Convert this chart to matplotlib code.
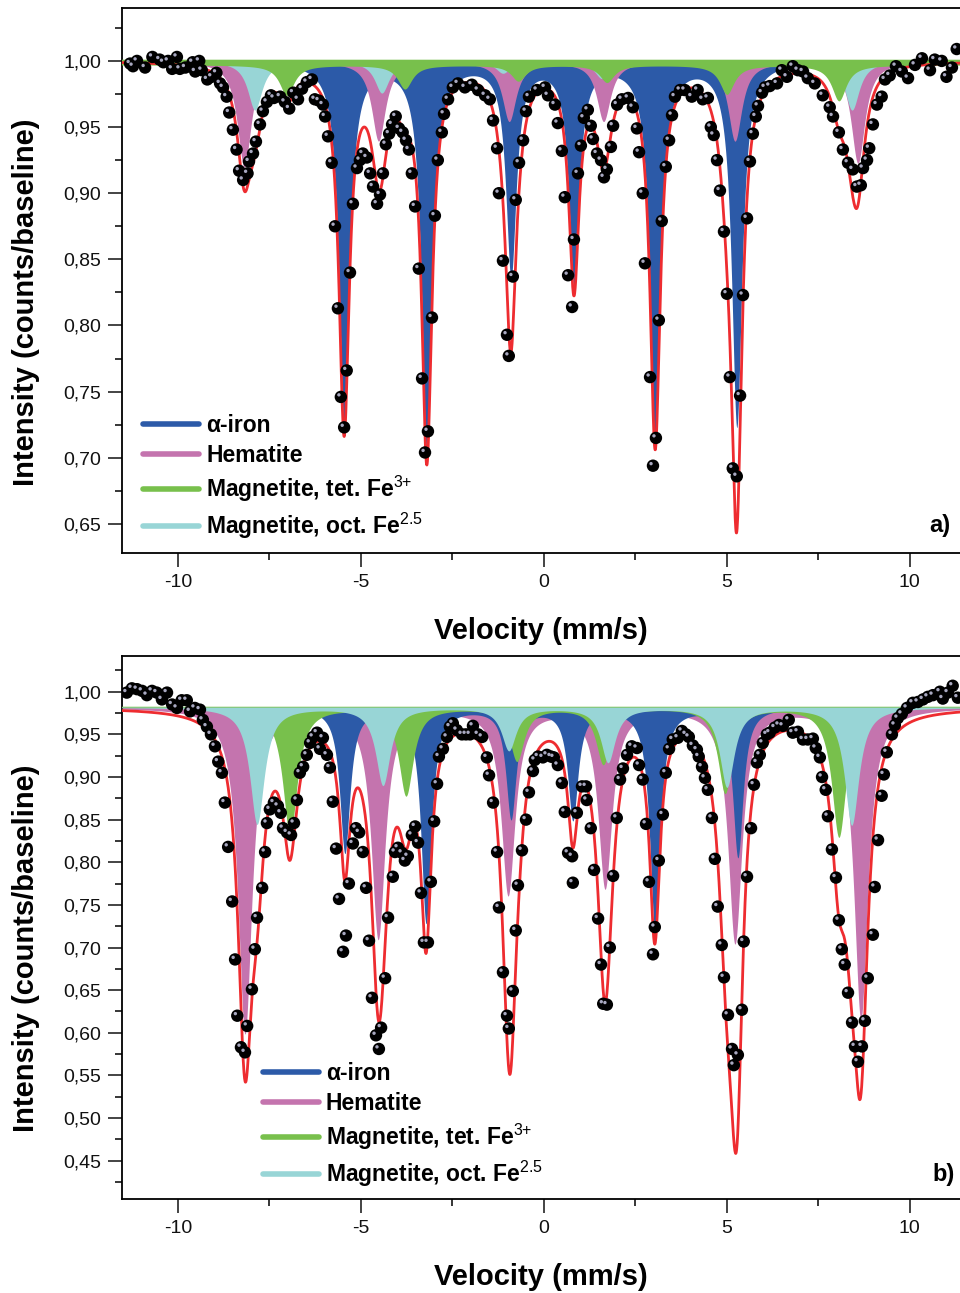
import numpy as np
import matplotlib
matplotlib.use('Agg')
import matplotlib.pyplot as plt
from matplotlib.lines import Line2D
from matplotlib.ticker import MultipleLocator, FuncFormatter
import matplotlib.transforms as mtransforms

plt.rcParams['font.family'] = ['Liberation Sans', 'DejaVu Sans']
plt.rcParams['mathtext.fontset'] = 'custom'
plt.rcParams['mathtext.rm'] = 'Liberation Sans'
plt.rcParams['mathtext.bf'] = 'Liberation Sans:bold'
plt.rcParams['axes.unicode_minus'] = False

# ------------------------------------------------ data ------------------------------------------------
# panel a) measured points (velocity mm/s, normalised intensity)
vel_a = [-11.31, -11.23, -11.12, -10.9, -10.7, -10.5, -10.4, -10.27, -10.16, -10.03, -9.95, -9.8, -9.6, -9.53, -9.42, -9.35,
         -9.2, -9.08, -8.95, -8.85, -8.77, -8.67, -8.6, -8.5, -8.4, -8.33, -8.22, -8.1, -8.06, -7.95, -7.87, -7.76, -7.68,
         -7.57, -7.46, -7.38, -7.21, -7.08, -6.96, -6.85, -6.72, -6.61, -6.48, -6.34, -6.26, -6.15, -6.04, -5.98, -5.9,
         -5.8, -5.71, -5.63, -5.55, -5.46, -5.39, -5.3, -5.22, -5.11, -5.03, -4.95, -4.84, -4.75, -4.67, -4.56, -4.48,
         -4.4, -4.32, -4.23, -4.15, -4.05, -3.96, -3.86, -3.77, -3.69, -3.61, -3.52, -3.42, -3.33, -3.25, -3.17, -3.06,
         -2.98, -2.9, -2.79, -2.73, -2.62, -2.49, -2.35, -2.16, -1.97, -1.8, -1.61, -1.48, -1.39, -1.28, -1.23, -1.12,
         -1.01, -0.96, -0.85, -0.77, -0.68, -0.57, -0.49, -0.41, -0.19, 0.03, 0.11, 0.3, 0.38, 0.49, 0.57, 0.66, 0.77,
         0.82, 0.93, 1.01, 1.09, 1.2, 1.28, 1.34, 1.45, 1.56, 1.64, 1.72, 1.83, 1.89, 2.0, 2.13, 2.3, 2.43, 2.54, 2.6,
         2.7, 2.76, 2.9, 2.98, 3.06, 3.14, 3.22, 3.33, 3.42, 3.5, 3.58, 3.72, 3.85, 4.04, 4.2, 4.34, 4.48, 4.56, 4.64,
         4.73, 4.81, 4.92, 5.0, 5.08, 5.16, 5.27, 5.36, 5.44, 5.55, 5.63, 5.71, 5.79, 5.85, 5.96, 6.04, 6.17, 6.37, 6.5,
         6.64, 6.8, 6.94, 7.08, 7.21, 7.4, 7.62, 7.81, 7.9, 8.06, 8.17, 8.31, 8.44, 8.55, 8.66, 8.72, 8.83, 8.89, 8.99,
         9.1, 9.23, 9.32, 9.45, 9.62, 9.78, 9.95, 10.14, 10.33, 10.55, 10.68, 10.87, 11.0, 11.15, 11.28]
int_a = [0.998, 0.996, 1.000, 0.995, 1.003, 1.001, 0.999, 1.000, 0.994, 1.003, 0.994, 0.995, 0.999, 0.992, 1.000, 0.993,
         0.986, 0.988, 0.991, 0.983, 0.980, 0.973, 0.961, 0.948, 0.933, 0.917, 0.910, 0.915, 0.924, 0.930, 0.939, 0.952, 0.962,
         0.969, 0.974, 0.972, 0.973, 0.969, 0.964, 0.976, 0.971, 0.979, 0.984, 0.986, 0.971, 0.970, 0.967, 0.958, 0.943,
         0.923, 0.875, 0.813, 0.746, 0.723, 0.766, 0.840, 0.892, 0.919, 0.925, 0.930, 0.927, 0.915, 0.905, 0.892, 0.899,
         0.915, 0.937, 0.945, 0.952, 0.958, 0.949, 0.946, 0.940, 0.933, 0.915, 0.890, 0.843, 0.760, 0.704, 0.720, 0.806,
         0.883, 0.925, 0.946, 0.960, 0.971, 0.980, 0.983, 0.980, 0.982, 0.978, 0.974, 0.971, 0.955, 0.934, 0.900, 0.849,
         0.793, 0.777, 0.837, 0.895, 0.923, 0.940, 0.962, 0.973, 0.978, 0.980, 0.974, 0.967, 0.953, 0.932, 0.897, 0.838, 0.814,
         0.865, 0.915, 0.936, 0.957, 0.963, 0.951, 0.941, 0.930, 0.925, 0.912, 0.918, 0.935, 0.951, 0.967, 0.971, 0.972, 0.965, 0.949, 0.931,
         0.900, 0.847, 0.761, 0.694, 0.715, 0.804, 0.879, 0.920, 0.940, 0.959, 0.973, 0.978, 0.978, 0.973, 0.978, 0.971, 0.972, 0.950, 0.944,
         0.925, 0.902, 0.871, 0.824, 0.761, 0.692, 0.686, 0.747, 0.823, 0.881, 0.924, 0.945, 0.958, 0.966, 0.976, 0.980, 0.981, 0.983, 0.993,
         0.988, 0.996, 0.993, 0.992, 0.987, 0.983, 0.974, 0.965, 0.958, 0.946, 0.933, 0.923, 0.918, 0.905, 0.906, 0.919, 0.925, 0.934, 0.952,
         0.967, 0.973, 0.986, 0.989, 0.996, 0.992, 0.987, 0.997, 1.002, 0.993, 1.001, 1.000, 0.988, 0.995, 1.009]

# panel b) measured points
vel_b = [-11.4, -11.26, -11.12, -10.98, -10.85, -10.71, -10.58, -10.44, -10.3, -10.16, -10.03, -9.9, -9.76, -9.67, -9.54,
         -9.4, -9.32, -9.21, -9.1, -8.99, -8.9, -8.8, -8.72, -8.63, -8.52, -8.44, -8.38, -8.28, -8.17, -8.11, -7.98, -7.9,
         -7.84, -7.7, -7.62, -7.57, -7.49, -7.38, -7.27, -7.19, -7.13, -7.02, -6.91, -6.83, -6.75, -6.67, -6.58, -6.48,
         -6.39, -6.31, -6.2, -6.12, -6.04, -5.93, -5.85, -5.77, -5.68, -5.6, -5.49, -5.41, -5.33, -5.22, -5.14, -5.05,
         -4.95, -4.86, -4.78, -4.7, -4.59, -4.51, -4.45, -4.34, -4.26, -4.13, -4.07, -3.99, -3.88, -3.8, -3.72, -3.61,
         -3.52, -3.44, -3.36, -3.28, -3.17, -3.09, -3.0, -2.92, -2.87, -2.76, -2.65, -2.57, -2.49, -2.38, -2.24, -2.13,
         -2.02, -1.94, -1.8, -1.69, -1.56, -1.5, -1.39, -1.28, -1.23, -1.12, -1.01, -0.96, -0.85, -0.77, -0.71, -0.6,
         -0.49, -0.41, -0.3, -0.25, -0.16, -0.03, 0.08, 0.19, 0.27, 0.38, 0.49, 0.57, 0.66, 0.77, 0.79, 0.9, 1.04, 1.15,
         1.17, 1.28, 1.37, 1.48, 1.56, 1.62, 1.72, 1.8, 1.89, 1.99, 2.08, 2.16, 2.27, 2.4, 2.54, 2.6, 2.7, 2.79, 2.87,
         2.98, 3.03, 3.14, 3.25, 3.33, 3.42, 3.52, 3.66, 3.77, 3.88, 3.96, 4.07, 4.18, 4.23, 4.32, 4.4, 4.48, 4.59, 4.67,
         4.75, 4.86, 4.92, 5.03, 5.14, 5.19, 5.3, 5.41, 5.46, 5.55, 5.66, 5.74, 5.82, 5.9, 5.98, 6.09, 6.17, 6.31, 6.42,
         6.53, 6.69, 6.8, 6.94, 7.08, 7.21, 7.35, 7.43, 7.54, 7.6, 7.7, 7.76, 7.87, 7.98, 8.06, 8.14, 8.22, 8.31, 8.42,
         8.5, 8.58, 8.69, 8.77, 8.85, 8.99, 9.04, 9.13, 9.23, 9.29, 9.37, 9.51, 9.59, 9.67, 9.78, 9.92, 10.08, 10.22,
         10.36, 10.49, 10.63, 10.82, 10.9, 11.04, 11.17, 11.31]
int_b = [0.999, 1.004, 1.003, 1.001, 0.996, 1.001, 0.999, 0.991, 0.999, 0.985, 0.981, 0.990, 0.990, 0.977, 0.981,
         0.979, 0.967, 0.959, 0.950, 0.936, 0.918, 0.905, 0.870, 0.818, 0.754, 0.686, 0.620, 0.583, 0.577, 0.608, 0.651, 0.698,
         0.735, 0.770, 0.812, 0.846, 0.862, 0.870, 0.866, 0.858, 0.840, 0.835, 0.832, 0.846, 0.873, 0.905, 0.912, 0.926,
         0.940, 0.947, 0.952, 0.933, 0.946, 0.926, 0.911, 0.871, 0.816, 0.757, 0.695, 0.714, 0.775, 0.822, 0.840, 0.835,
         0.812, 0.770, 0.708, 0.641, 0.597, 0.581, 0.606, 0.664, 0.735, 0.783, 0.812, 0.817, 0.811, 0.802, 0.807, 0.832,
         0.842, 0.823, 0.764, 0.706, 0.706, 0.777, 0.848, 0.892, 0.924, 0.933, 0.947, 0.959, 0.963, 0.955, 0.950, 0.950,
         0.950, 0.960, 0.950, 0.947, 0.923, 0.902, 0.870, 0.812, 0.747, 0.671, 0.620, 0.605, 0.649, 0.720, 0.773, 0.814,
         0.850, 0.882, 0.907, 0.920, 0.924, 0.923, 0.926, 0.924, 0.923, 0.914, 0.893, 0.859, 0.811, 0.807, 0.776, 0.858, 0.889, 0.889,
         0.873, 0.840, 0.791, 0.734, 0.680, 0.634, 0.633, 0.700, 0.784, 0.852, 0.897, 0.910, 0.926, 0.936, 0.934, 0.914, 0.897, 0.845, 0.777,
         0.692, 0.724, 0.802, 0.856, 0.905, 0.933, 0.944, 0.946, 0.954, 0.950, 0.947, 0.937, 0.932, 0.924, 0.912, 0.899, 0.885, 0.852, 0.804,
         0.748, 0.703, 0.665, 0.621, 0.581, 0.562, 0.574, 0.627, 0.707, 0.783, 0.840, 0.891, 0.917, 0.926, 0.940, 0.950, 0.952, 0.958, 0.961,
         0.960, 0.967, 0.952, 0.953, 0.944, 0.944, 0.945, 0.934, 0.923, 0.900, 0.885, 0.854, 0.815, 0.782, 0.732, 0.698, 0.680, 0.647, 0.612,
         0.584, 0.566, 0.584, 0.614, 0.664, 0.715, 0.771, 0.826, 0.878, 0.903, 0.929, 0.950, 0.961, 0.969, 0.974, 0.981, 0.987, 0.988,
         0.991, 0.994, 0.996, 1.000, 0.992, 0.999, 1.007, 0.993]

# fitted sextets: line positions (mm/s), line depths, half width at half maximum
base_a = 1.000
iron_pos_a = [-5.46, -3.20, -0.90, 0.82, 3.04, 5.27]
iron_dep_a = [0.275, 0.296, 0.160, 0.166, 0.287, 0.275]
hem_pos_a = [-8.19, -4.52, -0.95, 1.63, 5.22, 8.58]
hem_dep_a = [0.080, 0.060, 0.045, 0.045, 0.060, 0.077]
tet_pos_a = [-7.03, -3.80, -0.70, 1.72, 5.00, 8.06]
tet_dep_a = [0.023, 0.018, 0.012, 0.013, 0.022, 0.027]
oct_pos_a = [-7.90, -4.43, -1.12, 1.58, 5.00, 8.42]
oct_dep_a = [0.037, 0.024, 0.009, 0.013, 0.024, 0.037]

base_b = 0.982
iron_pos_b = [-5.44, -3.22, -0.90, 0.79, 3.03, 5.30]
iron_dep_b = [0.170, 0.252, 0.129, 0.130, 0.257, 0.175]
hem_pos_b = [-8.17, -4.53, -0.98, 1.67, 5.22, 8.66]
hem_dep_b = [0.382, 0.270, 0.218, 0.210, 0.275, 0.365]
tet_pos_b = [-6.94, -3.77, -0.74, 1.62, 4.95, 8.06]
tet_dep_b = [0.150, 0.103, 0.062, 0.066, 0.100, 0.152]
oct_pos_b = [-7.84, -4.40, -0.96, 1.75, 5.00, 8.41]
oct_dep_b = [0.137, 0.091, 0.050, 0.064, 0.093, 0.138]

hw_iron, hw_hem, hw_mag = 0.17, 0.23, 0.24

labels = ['\u03b1-iron', 'Hematite', 'Magnetite, tet. Fe$^{3{+}}$', 'Magnetite, oct. Fe$^{2.5}$']
c_iron, c_hem, c_tet, c_oct, c_fit = '#2C5AA8', '#C474AE', '#78C04C', '#98D5D6', '#EE2C30'


def sextet(v, pos, dep, hw):
    out = np.zeros_like(v)
    for p, d in zip(pos, dep):
        out += d * hw**2 / ((v - p)**2 + hw**2)
    return out


vgrid = np.linspace(-11.6, 11.6, 3000)


def yfmt(val, pos):
    return ('%.2f' % val).replace('.', ',')


fig = plt.figure(figsize=(9.6, 12.93), dpi=100)
ax_a = fig.add_axes([0.1271, 0.5723, 0.8729, 0.4215])
ax_b = fig.add_axes([0.1271, 0.0727, 0.8729, 0.4200])

panels = [
    (ax_a, base_a, vel_a, int_a, (iron_pos_a, iron_dep_a), (hem_pos_a, hem_dep_a), (tet_pos_a, tet_dep_a), (oct_pos_a, oct_dep_a)),
    (ax_b, base_b, vel_b, int_b, (iron_pos_b, iron_dep_b), (hem_pos_b, hem_dep_b), (tet_pos_b, tet_dep_b), (oct_pos_b, oct_dep_b)),
]

for n, (ax, base, vel, inten, iron, hem, tet, octa) in enumerate(panels):
    iron_c = base - sextet(vgrid, iron[0], iron[1], hw_iron)
    hem_c = base - sextet(vgrid, hem[0], hem[1], hw_hem)
    tet_c = base - sextet(vgrid, tet[0], tet[1], hw_mag)
    oct_c = base - sextet(vgrid, octa[0], octa[1], hw_mag)
    fit = iron_c + hem_c + tet_c + oct_c - 3 * base

    if n == 0:
        # panel a: iron at the back, tet. magnetite in front (its strip runs along the baseline)
        ax.fill_between(vgrid, iron_c, base, color=c_iron, lw=0, zorder=1)
        ax.fill_between(vgrid, hem_c, base, color=c_hem, lw=0, zorder=2)
        ax.fill_between(vgrid, oct_c, base, color=c_oct, lw=0, zorder=3)
        ax.fill_between(vgrid, tet_c - 0.003, base + 0.0013, color=c_tet, lw=0, zorder=4)
    else:
        # panel b: hematite at the back, oct. magnetite in front
        ax.fill_between(vgrid, hem_c, base, color=c_hem, lw=0, zorder=1)
        ax.fill_between(vgrid, iron_c, base, color=c_iron, lw=0, zorder=2)
        ax.fill_between(vgrid, tet_c, base + 0.001, color=c_tet, lw=0, zorder=3)
        ax.fill_between(vgrid, oct_c, base, color=c_oct, lw=0, zorder=4)

    ax.plot(vgrid, fit, color=c_fit, lw=2.0, zorder=5)

    # black balls with a small grey highlight
    ax.scatter(vel, inten, s=80, color='black', edgecolors='none', zorder=6)
    shine = mtransforms.offset_copy(ax.transData, fig=fig, x=-1.4, y=1.5, units='points')
    ax.scatter(vel, inten, s=6, color='#A8A8C0', edgecolors='none', zorder=7, transform=shine)

    ax.set_xlim(-11.53, 11.37)
    ax.xaxis.set_major_locator(MultipleLocator(5))
    ax.xaxis.set_minor_locator(MultipleLocator(2.5))
    ax.yaxis.set_major_locator(MultipleLocator(0.05))
    ax.yaxis.set_minor_locator(MultipleLocator(0.025))
    ax.yaxis.set_major_formatter(FuncFormatter(yfmt))
    ax.tick_params(which='major', direction='out', length=10, width=1.1, labelsize=14, pad=5, colors='#111111')
    ax.tick_params(which='minor', direction='out', length=5, width=1.1)
    ax.spines['right'].set_visible(False)
    for s in ['left', 'bottom', 'top']:
        ax.spines[s].set_linewidth(1.3)

    ax.set_xlabel('Velocity (mm/s)', fontsize=21, fontweight='bold', labelpad=19)
    ax.set_ylabel('Intensity (counts/baseline)', fontsize=21, fontweight='bold')

    handles = [Line2D([], [], color=c, lw=4, solid_capstyle='round') for c in [c_iron, c_hem, c_tet, c_oct]]
    if n == 0:
        leg = ax.legend(handles, labels, loc='lower left', bbox_to_anchor=(0.006, -0.007), frameon=False,
                        prop={'size': 16.5, 'weight': 'bold'}, handlelength=2.45, handletextpad=0.3, labelspacing=0.3,
                        borderaxespad=0.3)
        ax.text(0.988, 0.05, 'a)', transform=ax.transAxes, ha='right', va='center', fontsize=17, fontweight='bold')
    else:
        leg = ax.legend(handles, labels, loc='lower left', bbox_to_anchor=(0.149, -0.012), frameon=False,
                        prop={'size': 16.5, 'weight': 'bold'}, handlelength=2.45, handletextpad=0.3, labelspacing=0.3,
                        borderaxespad=0.3)
        ax.text(0.994, 0.045, 'b)', transform=ax.transAxes, ha='right', va='center', fontsize=17, fontweight='bold')
    leg.set_zorder(8)

ax_a.set_ylim(0.628, 1.040)
ax_b.set_ylim(0.405, 1.042)
ax_a.yaxis.set_label_coords(-0.098, 0.461)
ax_b.yaxis.set_label_coords(-0.098, 0.461)

fig.savefig('out.png', dpi=100)
